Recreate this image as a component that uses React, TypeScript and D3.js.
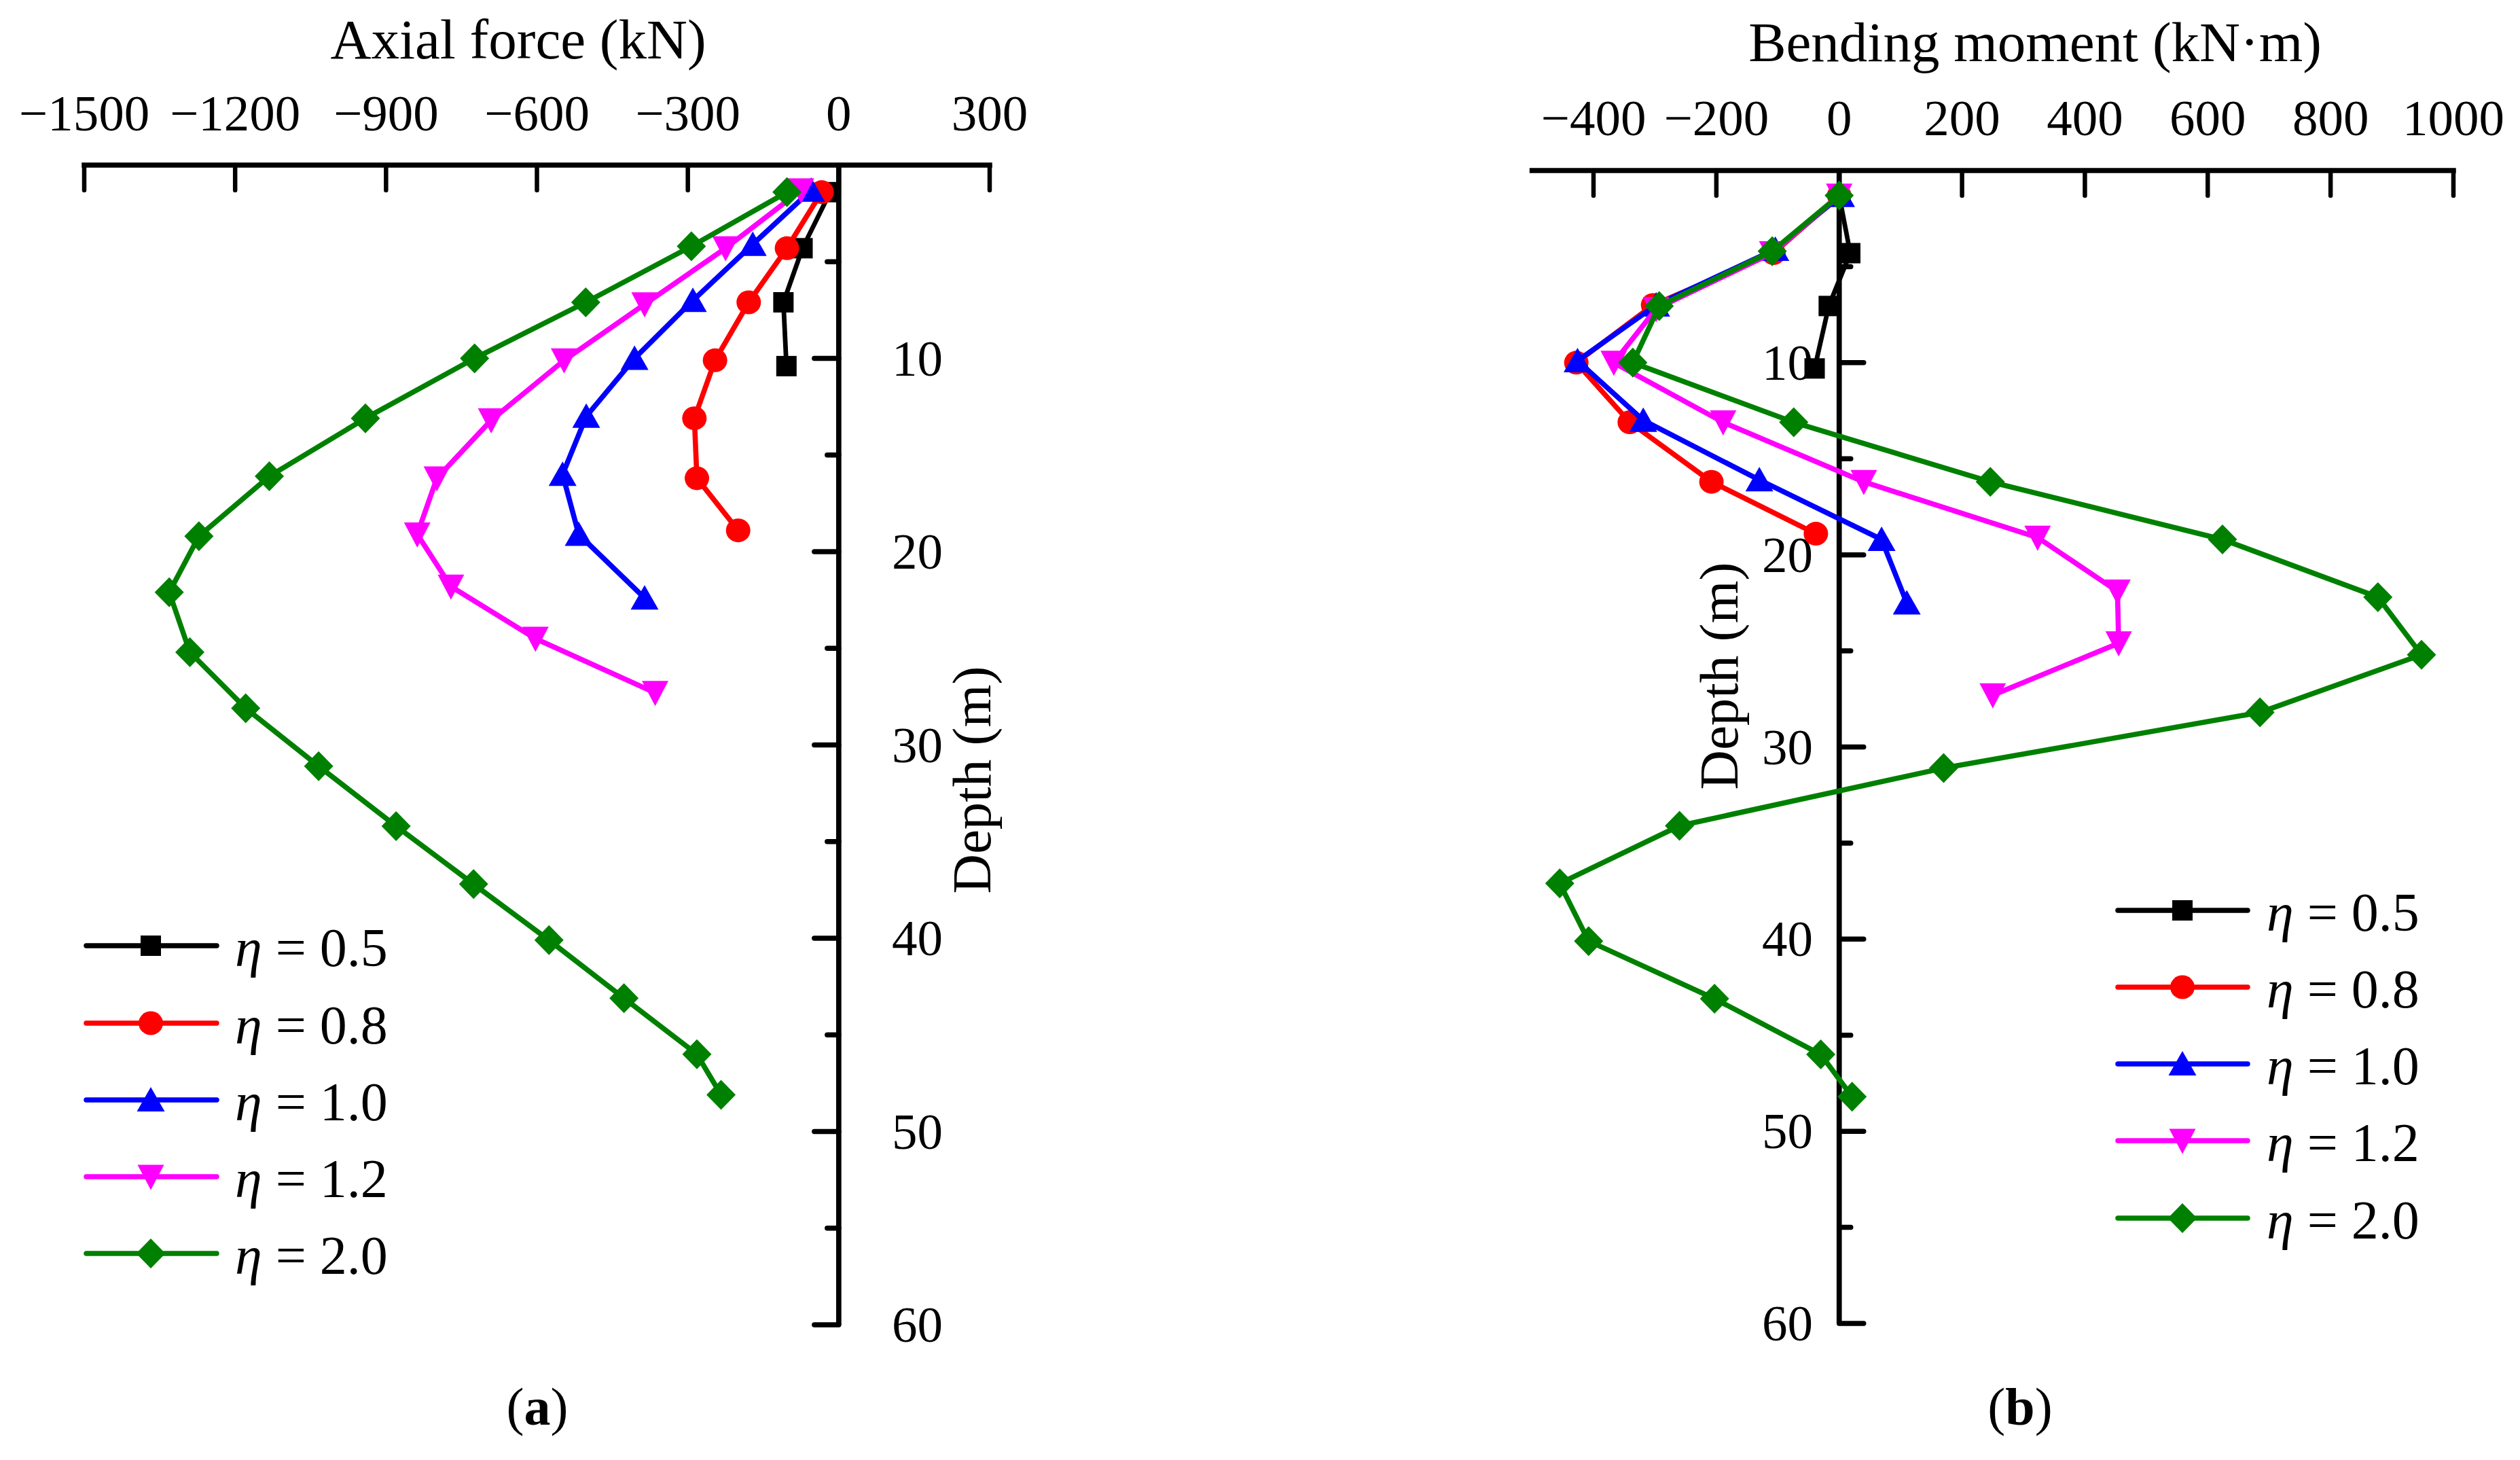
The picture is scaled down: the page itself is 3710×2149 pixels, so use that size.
import React from 'react';
import * as d3 from 'd3';

// ---------- data ----------
const etaLabels = ['0.5', '0.8', '1.0', '1.2', '2.0'];

// Panel (a): axial force (kN) vs depth (m)
const axialDepth05 = [1.4, 4.3, 7.1, 10.4];
const axialForce05 = [-17, -72, -110, -104];
const axialDepth08 = [1.4, 4.3, 7.1, 10.1, 13.1, 16.2, 18.9];
const axialForce08 = [-34, -103, -179, -246, -287, -282, -200];
const axialDepth10 = [1.3, 4.1, 7.0, 10.0, 13.0, 16.0, 19.1, 22.4];
const axialForce10 = [-55, -171, -290, -406, -502, -549, -517, -386];
const axialDepth12 = [1.3, 4.3, 7.2, 10.1, 13.2, 16.2, 19.1, 21.8, 24.5, 27.3];
const axialForce12 = [-75, -225, -386, -546, -691, -799, -838, -771, -603, -365];
const axialDepth20 = [1.4, 4.2, 7.1, 10.0, 13.1, 16.1, 19.2, 22.1, 25.2, 28.1, 31.1, 34.2, 37.2, 40.1, 43.1, 46.0, 48.1];
const axialForce20 = [-103, -293, -503, -724, -941, -1132, -1272, -1331, -1290, -1179, -1034, -880, -726, -576, -427, -282, -234];

// Panel (b): bending moment (kN·m) vs depth (m)
const momentDepth05 = [1.3, 4.3, 7.05, 10.3];
const moment05 = [0, 18, -17, -40];
const momentDepth08 = [1.3, 4.3, 7.0, 10.0, 13.1, 16.2, 18.9];
const moment08 = [0, -107, -303, -428, -341, -208, -38];
const momentDepth10 = [1.3, 4.1, 7.0, 9.9, 13.0, 16.1, 19.2, 22.5];
const moment10 = [3, -104, -298, -426, -319, -130, 69, 110];
const momentDepth12 = [1.3, 4.3, 7.2, 10.0, 13.1, 16.2, 19.1, 21.9, 24.6, 27.3];
const moment12 = [0, -109, -298, -367, -189, 40, 323, 453, 455, 250];
const momentDepth20 = [1.3, 4.2, 7.05, 10.0, 13.1, 16.2, 19.2, 22.2, 25.2, 28.2, 31.1, 34.1, 37.1, 40.1, 43.1, 46.0, 48.2];
const moment20 = [0, -109, -293, -336, -74, 246, 624, 877, 948, 685, 170, -260, -455, -408, -203, -30, 21];

const axialTicks = [-1500, -1200, -900, -600, -300, 0, 300];
const momentTicks = [-400, -200, 0, 200, 400, 600, 800, 1000];
const depthMajorTicks = [10, 20, 30, 40, 50, 60];
const depthMinorTicks = [5, 15, 25, 35, 45, 55];

// ---------- styles ----------
const colors = ['#000000', '#ff0000', '#0000ff', '#ff00ff', '#008000'];
const shapes = ['square', 'circle', 'triUp', 'triDown', 'diamond'];
const FONT = '"Liberation Serif", "Times New Roman", serif';

type Pt = { x: number; d: number };
const zip = (xs: number[], ds: number[]): Pt[] => xs.map((x, i) => ({ x, d: ds[i] }));

const axialSeries = [
  zip(axialForce05, axialDepth05),
  zip(axialForce08, axialDepth08),
  zip(axialForce10, axialDepth10),
  zip(axialForce12, axialDepth12),
  zip(axialForce20, axialDepth20),
];
const momentSeries = [
  zip(moment05, momentDepth05),
  zip(moment08, momentDepth08),
  zip(moment10, momentDepth10),
  zip(moment12, momentDepth12),
  zip(moment20, momentDepth20),
];

function Marker({ shape, x, y, color }: { shape: string; x: number; y: number; color: string }) {
  let d = '';
  if (shape === 'square') d = 'M-15,-15h30v30h-30Z';
  else if (shape === 'triUp') d = 'M0,-19L20.5,17L-20.5,17Z';
  else if (shape === 'triDown') d = 'M-19.5,-17.5L19.5,-17.5L0,19.5Z';
  else if (shape === 'diamond') d = 'M0,-22L21.5,0L0,22L-21.5,0Z';
  if (shape === 'circle') return <ellipse cx={x} cy={y} rx={18} ry={17.5} fill={color} />;
  return <path d={d} transform={`translate(${x},${y})`} fill={color} />;
}

function Legend({ x0, x1, xm, xt, rows }: { x0: number; x1: number; xm: number; xt: number; rows: number[] }) {
  return (
    <g>
      {etaLabels.map((lab, i) => (
        <g key={lab}>
          <line x1={x0} x2={x1} y1={rows[i]} y2={rows[i]} stroke={colors[i]} strokeWidth={7.5} strokeLinecap="round" />
          <Marker shape={shapes[i]} x={xm} y={rows[i]} color={colors[i]} />
          <text x={xt} y={rows[i] + 30} fontSize={80} fontFamily={FONT}>
            <tspan fontStyle="italic">η</tspan> = {lab}
          </text>
        </g>
      ))}
    </g>
  );
}

function Panel({
  series, xScale, yScale, ticks, axisY, tickLabelY, title, titleX, titleY,
  depthLabelSide, depthLabelX, depthTitleX, depthTitleY, xmin, xmax,
}: any) {
  const x0 = xScale(0);
  const line = d3.line<Pt>().x((p) => xScale(p.x)).y((p) => yScale(p.d));
  const sign = depthLabelSide === 'right' ? -1 : 1; // tick direction
  return (
    <g>
      {/* top axis */}
      <line x1={xScale(xmin)} x2={xScale(xmax)} y1={axisY} y2={axisY} stroke="#000" strokeWidth={7.5} strokeLinecap="square" />
      {ticks.map((t: number) => (
        <g key={t}>
          <line x1={xScale(t)} x2={xScale(t)} y1={axisY} y2={axisY + 37} stroke="#000" strokeWidth={6.5} strokeLinecap="round" />
          <text x={xScale(t)} y={tickLabelY} textAnchor="middle" fontSize={75} fontFamily={FONT}>
            {t < 0 ? '\u2212' + Math.abs(t) : String(t)}
          </text>
        </g>
      ))}
      <text x={titleX} y={titleY} textAnchor="middle" fontSize={83} fontFamily={FONT}>{title}</text>
      {/* depth axis */}
      <line x1={x0} x2={x0} y1={axisY} y2={yScale(60)} stroke="#000" strokeWidth={7.7} />
      {depthMajorTicks.map((t) => (
        <g key={'M' + t}>
          <line x1={x0} x2={x0 + sign * 36} y1={yScale(t)} y2={yScale(t)} stroke="#000" strokeWidth={7.5} strokeLinecap="round" />
          <text x={depthLabelX} y={yScale(t) + 25} textAnchor={depthLabelSide === 'right' ? 'start' : 'end'} fontSize={75} fontFamily={FONT}>
            {t}
          </text>
        </g>
      ))}
      {depthMinorTicks.map((t) => (
        <line key={'m' + t} x1={x0} x2={x0 + sign * 17} y1={yScale(t)} y2={yScale(t)} stroke="#000" strokeWidth={7.5} strokeLinecap="round" />
      ))}
      <text transform={`translate(${depthTitleX},${depthTitleY}) rotate(-90)`} textAnchor="middle" fontSize={81} fontFamily={FONT}>
        Depth (m)
      </text>
      {/* series */}
      {series.map((s: Pt[], i: number) => (
        <g key={i}>
          <path d={line(s) || ''} fill="none" stroke={colors[i]} strokeWidth={i === 0 ? 6.8 : 7.6} strokeLinejoin="round" />
          {s.map((p, j) => (
            <Marker key={j} shape={shapes[i]} x={xScale(p.x)} y={yScale(p.d)} color={colors[i]} />
          ))}
        </g>
      ))}
    </g>
  );
}

export default function App() {
  const xA = d3.scaleLinear().domain([-1500, 300]).range([124, 1457]);
  const yA = d3.scaleLinear().domain([0, 60]).range([243, 1950]);
  const xB = d3.scaleLinear().domain([-400, 1000]).range([2346, 3612]);
  const yB = d3.scaleLinear().domain([0, 60]).range([251, 1948]);
  return (
    <svg width={3710} height={2149} viewBox="0 0 3710 2149"
      style={{ position: 'absolute', left: 0, top: 0, display: 'block', background: '#fff' }}>
      <rect width={3710} height={2149} fill="#fff" />
      <Panel series={axialSeries} xScale={xA} yScale={yA} ticks={axialTicks} axisY={243} tickLabelY={192}
        title="Axial force (kN)" titleX={763} titleY={86} depthLabelSide="right" depthLabelX={1313}
        depthTitleX={1458} depthTitleY={1148} xmin={-1500} xmax={300} />
      <Panel series={momentSeries} xScale={xB} yScale={yB} ticks={momentTicks} axisY={251} tickLabelY={199}
        title="Bending moment (kN·m)" titleX={2996} titleY={90} depthLabelSide="left" depthLabelX={2669}
        depthTitleX={2558} depthTitleY={995} xmin={-500} xmax={1000} />
      <Legend x0={127} x1={319} xm={222} xt={346} rows={[1392, 1506, 1619, 1732, 1845]} />
      <Legend x0={3118} x1={3309} xm={3213} xt={3337} rows={[1340, 1453, 1566, 1679, 1793]} />
      <text x={791} y={2097} textAnchor="middle" fontSize={78} fontFamily={FONT}>
        (<tspan fontWeight="bold">a</tspan>)
      </text>
      <text x={2974} y={2097} textAnchor="middle" fontSize={78} fontFamily={FONT}>
        (<tspan fontWeight="bold">b</tspan>)
      </text>
    </svg>
  );
}
